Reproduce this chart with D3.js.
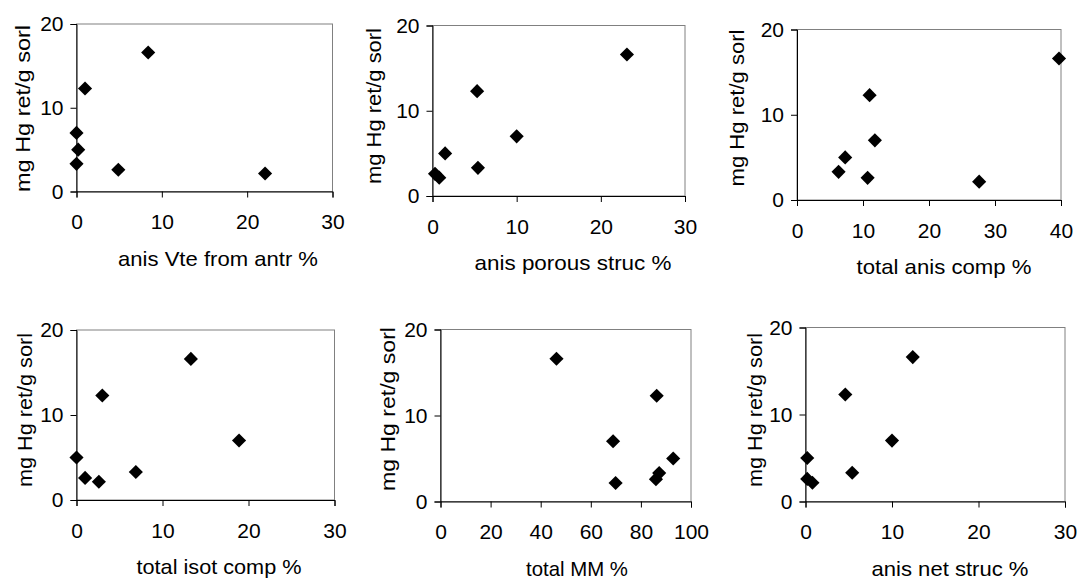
<!DOCTYPE html>
<html>
<head>
<meta charset="utf-8">
<script src="https://cdn.jsdelivr.net/npm/d3@7"></script>
<style>
  body { margin: 0; background: #fff; }
  svg { display: block; font-family: "Liberation Sans", Arial, sans-serif; }
</style>
</head>
<body>
<div id="chart"></div>
<script>
// mercury retained (mg Hg ret / g sorbent), same 7 samples in every panel
const hgRetained = [16.6, 12.3, 7.0, 5.0, 3.3, 2.6, 2.15];

// x values for each panel, in the same sample order
const anisVteFromAntr = [8.4, 1.0, 0, 0.2, 0, 4.9, 22.1];
const anisPorousStruc = [23.1, 5.3, 10.0, 1.5, 5.4, 0.3, 0.8];
const totalAnisComp   = [39.7, 11.0, 11.8, 7.3, 6.3, 10.7, 27.6];
const totalIsotComp   = [13.3, 3.0, 18.9, 0, 6.9, 1.0, 2.6];
const totalMM         = [46.3, 86.3, 68.9, 92.9, 87.3, 86.0, 69.9];
const anisNetStruc    = [12.4, 4.6, 10.0, 0.2, 5.4, 0.2, 0.8];

const xTitles = ['anis Vte from antr %', 'anis porous struc %', 'total anis comp  %',
                 'total isot comp %', 'total MM %', 'anis net struc %'];
const yTitle = 'mg Hg ret/g sorl';

const xTicks30 = [0, 10, 20, 30];
const xTicks40 = [0, 10, 20, 30, 40];
const xTicks100 = [0, 20, 40, 60, 80, 100];
const yTicks = [0, 10, 20];

const seriesX = [anisVteFromAntr, anisPorousStruc, totalAnisComp, totalIsotComp, totalMM, anisNetStruc];
const tickSets = [xTicks30, xTicks30, xTicks40, xTicks30, xTicks100, xTicks30];

// plot boxes and label placement, in page pixels
// yl = [x, y, length] of the y title, xt = [x, length] of the x title
const layout = [
  {l: 76.5,  r: 332.5, t: 24,    b: 191.5, yl: [24, 108.5, 167],  xt: [218, 200]},
  {l: 432.5, r: 685,   t: 25.5,  b: 196,   yl: [375, 106, 156],   xt: [573, 197]},
  {l: 797,   r: 1061,  t: 29.5,  b: 200,   yl: [738, 108, 157],   xt: [944, 175]},
  {l: 76.5,  r: 334.5, t: 330,   b: 500,   yl: [26, 410, 154],    xt: [219, 165]},
  {l: 440.5, r: 691,   t: 329.5, b: 501.5, yl: [389, 409, 164],   xt: [577, 102]},
  {l: 805.5, r: 1065,  t: 327.5, b: 501.5, yl: [755.5, 410, 154], xt: [950, 157]}
];

const width = 1081;
const height = 579;

const svg = d3.select('#chart')
  .append('svg')
    .attr('width', width)
    .attr('height', height);

const diamond = d3.symbol().type(d3.symbolSquare).size(100);

layout.forEach((box, i) => {
  const xs = seriesX[i];
  const ticks = tickSets[i];

  const xScale = d3.scaleLinear()
    .domain([0, ticks[ticks.length - 1]])
    .range([box.l, box.r]);

  const yScale = d3.scaleLinear()
    .domain([0, 20])
    .range([box.b, box.t]);

  const g = svg.append('g');

  // grey plot frame (top and right show through)
  g.append('rect')
    .attr('x', box.l)
    .attr('y', box.t)
    .attr('width', box.r - box.l)
    .attr('height', box.b - box.t)
    .attr('fill', 'none')
    .attr('stroke', '#808080')
    .attr('stroke-width', 1);

  // x axis
  const xAxis = g.append('g')
    .attr('transform', `translate(0, ${box.b})`)
    .call(d3.axisBottom(xScale).tickValues(ticks).tickSizeOuter(0).tickSize(6).tickPadding(17));

  // y axis
  const yAxis = g.append('g')
    .attr('transform', `translate(${box.l}, 0)`)
    .call(d3.axisLeft(yScale).tickValues(yTicks).tickSizeOuter(0).tickSize(6).tickPadding(7));

  [xAxis, yAxis].forEach(ax => {
    ax.selectAll('path.domain').attr('stroke', '#000');
    ax.selectAll('line').attr('stroke', '#000');
    ax.selectAll('text')
      .attr('fill', '#000')
      .style('font-size', '21px')
      .style('font-family', '"Liberation Sans", Arial, sans-serif');
  });

  // points
  g.selectAll('path.pt')
    .data(xs.map((x, j) => ({x: x, y: hgRetained[j]})))
    .enter()
      .append('path')
        .attr('class', 'pt')
        .attr('d', diamond)
        .attr('transform', d => `translate(${xScale(d.x)}, ${yScale(d.y)}) rotate(45)`)
        .attr('fill', '#000');

  // x title
  g.append('text')
    .attr('x', box.xt[0])
    .attr('y', box.b + 74)
    .attr('text-anchor', 'middle')
    .attr('textLength', box.xt[1])
    .attr('lengthAdjust', 'spacingAndGlyphs')
    .style('font-size', '21px')
    .text(xTitles[i]);

  // y title
  g.append('text')
    .attr('transform', `translate(${box.yl[0]}, ${box.yl[1]}) rotate(-90)`)
    .attr('dy', '0.3em')
    .attr('text-anchor', 'middle')
    .attr('textLength', box.yl[2])
    .attr('lengthAdjust', 'spacingAndGlyphs')
    .style('font-size', '21px')
    .text(yTitle);
});
</script>
</body>
</html>
